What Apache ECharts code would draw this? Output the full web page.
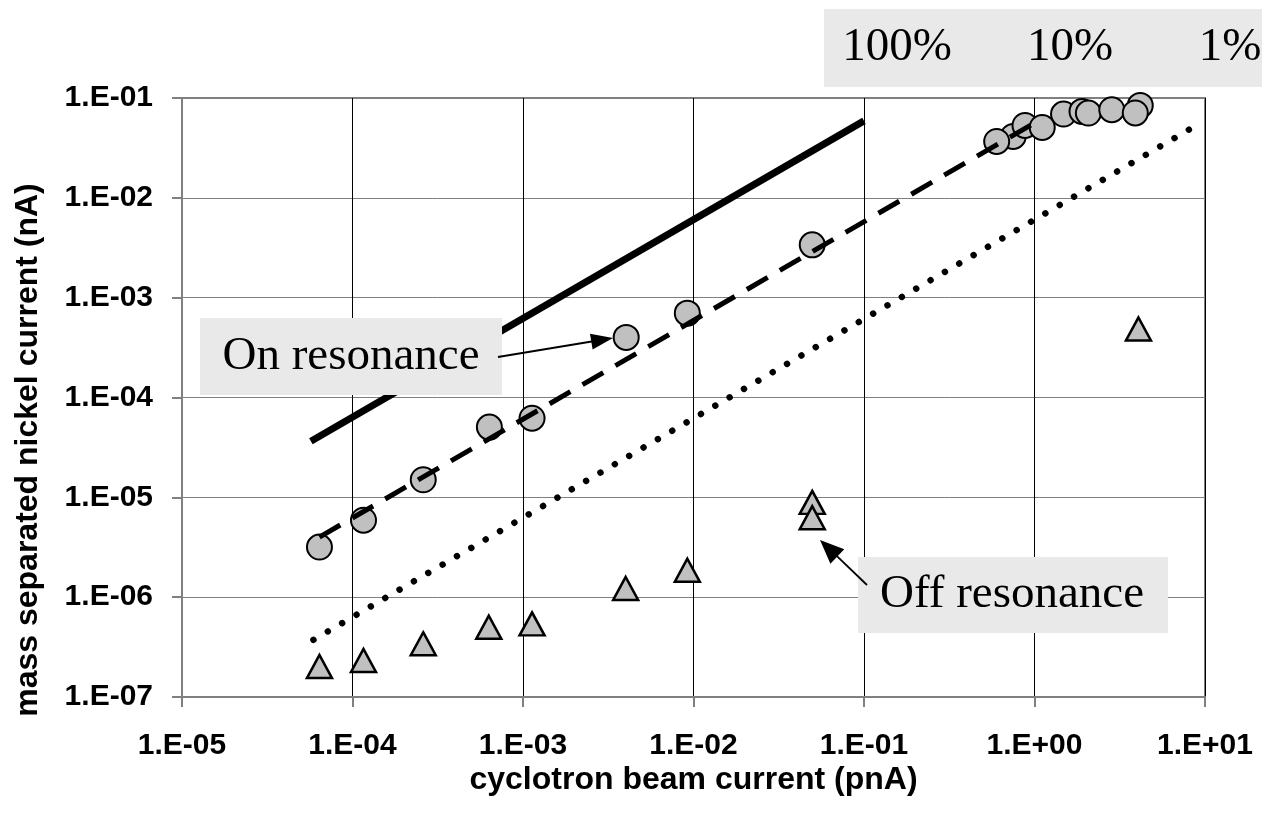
<!DOCTYPE html>
<html><head><meta charset="utf-8">
<script src="https://cdn.jsdelivr.net/npm/echarts@6/dist/echarts.min.js"></script>
<style>html,body{margin:0;padding:0;background:#fff}#c{width:1262px;height:820px}</style>
</head><body><div id="c"></div>
<script>
// ---- data ----
const xTickLabels = ['1.E-05','1.E-04','1.E-03','1.E-02','1.E-01','1.E+00','1.E+01'];
const yTickLabels = ['1.E-07','1.E-06','1.E-05','1.E-04','1.E-03','1.E-02','1.E-01'];

const onResX = [6.4e-5, 1.16e-4, 2.6e-4, 6.35e-4, 1.13e-3, 4.03e-3, 9.2e-3, 0.0497, 0.75, 0.60, 0.88, 1.11, 1.48, 1.90, 2.07, 2.84, 4.17, 3.90];
const onResY = [3.18e-6, 5.9e-6, 1.5e-5, 5.05e-5, 6.2e-5, 4.0e-4, 7.0e-4, 3.38e-3, 0.0412, 0.0367, 0.0531, 0.0507, 0.0691, 0.0734, 0.0707, 0.0764, 0.0843, 0.0708];

const offResX = [6.4e-5, 1.16e-4, 2.6e-4, 6.3e-4, 1.13e-3, 4.0e-3, 9.2e-3, 0.0497, 0.0497, 4.07];
const offResY = [2.02e-7, 2.32e-7, 3.41e-7, 5.0e-7, 5.4e-7, 1.22e-6, 1.86e-6, 8.9e-6, 6.24e-6, 4.85e-4];

const fit100X = [5.7e-5, 0.1];
const fit100Y = [3.65e-5, 0.059];
const fit10X = [6.4e-5, 1.12];
const fit10Y = [4.0e-6, 0.063];
const fit1X = [5.9e-5, 9.7];
const fit1Y = [3.74e-7, 0.058];

const pctLabels = ['100%', '10%', '1%'];
const annOn = 'On resonance';
const annOff = 'Off resonance';
const xTitle = 'cyclotron beam current (pnA)';
const yTitle = 'mass separated nickel current (nA)';

// ---- build ----
const zip = (xs, ys) => xs.map((x, i) => [x, ys[i]]);
const SANS = '"Liberation Sans", Arial, sans-serif';
const SERIF = '"Liberation Serif", "Times New Roman", serif';

const chart = echarts.init(document.getElementById('c'), null, {renderer: 'canvas'});

function arrow(tx, ty, hx, hy, len, w) {
  const dx = hx - tx, dy = hy - ty, L = Math.sqrt(dx*dx + dy*dy);
  const ux = dx / L, uy = dy / L;
  const bx = hx - ux * len, by = hy - uy * len;
  const px = -uy, py = ux;
  return [
    {type: 'line', z: 20, shape: {x1: tx, y1: ty, x2: bx + ux*2, y2: by + uy*2}, style: {stroke: '#000', lineWidth: 1.8}},
    {type: 'polygon', z: 20, shape: {points: [[hx, hy], [bx + px*w/2, by + py*w/2], [bx - px*w/2, by - py*w/2]]}, style: {fill: '#000'}}
  ];
}

const boxFill = '#e9e9e9';
const graphics = [
  {type: 'rect', z: 10, shape: {x: 824, y: 9, width: 438, height: 78}, style: {fill: boxFill}},
  {type: 'text', z: 11, x: 897, y: 48, style: {text: pctLabels[0], font: '47px ' + SERIF, fill: '#000', textAlign: 'center', textVerticalAlign: 'middle'}},
  {type: 'text', z: 11, x: 1070, y: 48, style: {text: pctLabels[1], font: '47px ' + SERIF, fill: '#000', textAlign: 'center', textVerticalAlign: 'middle'}},
  {type: 'text', z: 11, x: 1230, y: 48, style: {text: pctLabels[2], font: '47px ' + SERIF, fill: '#000', textAlign: 'center', textVerticalAlign: 'middle'}},
  {type: 'rect', z: 10, shape: {x: 200, y: 318, width: 302, height: 77}, style: {fill: boxFill}},
  {type: 'text', z: 11, x: 351, y: 357, style: {text: annOn, font: '47px ' + SERIF, fill: '#000', textAlign: 'center', textVerticalAlign: 'middle'}},
  {type: 'rect', z: 10, shape: {x: 858, y: 557, width: 310, height: 76}, style: {fill: boxFill}},
  {type: 'text', z: 11, x: 1012, y: 595, style: {text: annOff, font: '47px ' + SERIF, fill: '#000', textAlign: 'center', textVerticalAlign: 'middle'}},
  ...arrow(498, 357, 613, 338, 22, 16),
  ...arrow(867, 585, 820, 540, 24, 20)
];

const option = {
  animation: false,
  backgroundColor: '#fff',
  grid: {left: 182, right: 57, top: 98, bottom: 123, show: true, borderColor: '#808080', borderWidth: 2, backgroundColor: 'transparent'},
  xAxis: {
    type: 'log', logBase: 10, min: 1e-5, max: 10,
    name: xTitle, nameLocation: 'middle', nameGap: 67, nameMoveOverlap: false,
    nameTextStyle: {fontFamily: SANS, fontWeight: 'bold', fontSize: 32, color: '#000'},
    axisLine: {show: true, lineStyle: {color: '#808080', width: 2}},
    axisTick: {show: true, length: 10, inside: false, lineStyle: {color: '#808080', width: 2}},
    axisLabel: {show: true, margin: 34, fontFamily: SANS, fontWeight: 'bold', fontSize: 30, color: '#000',
      showMinLabel: true, showMaxLabel: true,
      formatter: v => xTickLabels[Math.round(Math.log10(v)) + 5]},
    splitLine: {show: true, lineStyle: {color: '#000', width: 1}},
    minorTick: {show: false}, minorSplitLine: {show: false}
  },
  yAxis: {
    type: 'log', logBase: 10, min: 1e-7, max: 0.1,
    name: yTitle, nameLocation: 'middle', nameGap: 138, nameRotate: 90, nameMoveOverlap: false,
    nameTextStyle: {fontFamily: SANS, fontWeight: 'bold', fontSize: 32, color: '#000', padding: [0, 105, 0, 0]},
    axisLine: {show: true, lineStyle: {color: '#808080', width: 2}},
    axisTick: {show: true, length: 10, inside: false, lineStyle: {color: '#808080', width: 2}},
    axisLabel: {show: true, margin: 29, fontFamily: SANS, fontWeight: 'bold', fontSize: 30, color: '#000',
      showMinLabel: true, showMaxLabel: true,
      formatter: v => yTickLabels[Math.round(Math.log10(v)) + 7]},
    splitLine: {show: true, lineStyle: {color: '#808080', width: 1}}
  },
  series: [
    {name: 'On resonance', type: 'scatter', z: 2, symbol: 'circle', symbolSize: 25,
      itemStyle: {color: '#c0c0c0', borderColor: '#000', borderWidth: 2, opacity: 1},
      data: zip(onResX, onResY)},
    {name: '100%', type: 'line', z: 3, showSymbol: false, symbol: 'none', data: zip(fit100X, fit100Y),
      lineStyle: {color: '#000', width: 7, type: 'solid', cap: 'butt'}},
    {name: '10%', type: 'line', z: 3, showSymbol: false, symbol: 'none', data: zip(fit10X, fit10Y),
      lineStyle: {color: '#000', width: 5, type: [24, 14], cap: 'butt'}},
    {name: '1%', type: 'line', z: 3, showSymbol: false, symbol: 'none', data: zip(fit1X, fit1Y),
      lineStyle: {color: '#000', width: 6.5, type: [0.01, 16.6], cap: 'round'}},
    {name: 'Off resonance', type: 'scatter', z: 4, symbol: 'triangle', symbolSize: [25, 23],
      itemStyle: {color: '#c0c0c0', borderColor: '#000', borderWidth: 2.5, opacity: 1},
      data: zip(offResX, offResY)}
  ],
  graphic: graphics
};
chart.setOption(option);
</script></body></html>
